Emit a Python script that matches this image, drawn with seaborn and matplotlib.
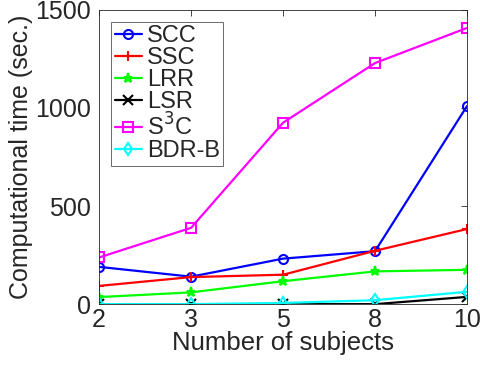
import numpy as np
import pandas as pd
import seaborn as sns
import matplotlib
matplotlib.use("Agg")
import matplotlib.pyplot as plt

# ===============================
# Data
# ===============================
subjects = ["2", "3", "5", "8", "10"]
scc = [190, 140, 232, 270, 1010]
ssc = [93, 138, 150, 272, 383]
lrr = [36, 60, 117, 167, 175]
lsr = [0, 0, 0, 0, 37]
s3c = [238, 389, 925, 1229, 1408]
bdr_b = [0, 0, 6, 20, 63]

series = [
    ("SCC", scc, "#0000ff", "o"),
    ("SSC", ssc, "#ff0000", "+"),
    ("LRR", lrr, "#00ff00", "*"),
    ("LSR", lsr, "#000000", "x"),
    ("S$^3$C", s3c, "#ff00ff", "s"),
    ("BDR-B", bdr_b, "#00ffff", "d"),
]

sns.set_style("white")
plt.rcParams["font.family"] = ["Liberation Sans", "DejaVu Sans"]

fig = plt.figure(figsize=(4.81, 3.66), dpi=100)
ax = fig.add_axes([0.206, 0.169, 0.765, 0.804])

pos = np.arange(len(subjects))
for name, vals, col, mk in series:
    df = pd.DataFrame({"x": pos, "y": vals})
    sns.lineplot(data=df, x="x", y="y", ax=ax, color=col, marker=mk,
                 markersize=6.5, markerfacecolor="none", markeredgecolor=col,
                 markeredgewidth=1.5, linewidth=1.6, label=name)

ax.set_xlim(0, 4)
ax.set_ylim(0, 1500)
ax.set_xticks(pos)
ax.set_xticklabels(subjects)
ax.set_yticks([0, 500, 1000, 1500])
ax.set_xlabel("Number of subjects", fontsize=18.5, color="#262626", labelpad=-1)
ax.set_ylabel("Computational time (sec.)", fontsize=18, color="#262626", labelpad=1)
ax.tick_params(direction="in", length=4, width=0.6, top=True, right=True,
               labelsize=18, colors="#262626")
ax.tick_params(axis="y", pad=6)
ax.tick_params(axis="x", pad=3)
for sp in ax.spines.values():
    sp.set_color("#262626")
    sp.set_linewidth(0.6)

leg = ax.legend(loc="upper left", bbox_to_anchor=(0.033, 0.96), fontsize=17,
                frameon=True, fancybox=False, handlelength=1.15,
                handletextpad=0.2, borderpad=0.15, labelspacing=0.0,
                borderaxespad=0)
leg.get_frame().set_edgecolor("#262626")
leg.get_frame().set_linewidth(0.6)

fig.savefig("out.png", dpi=100)
